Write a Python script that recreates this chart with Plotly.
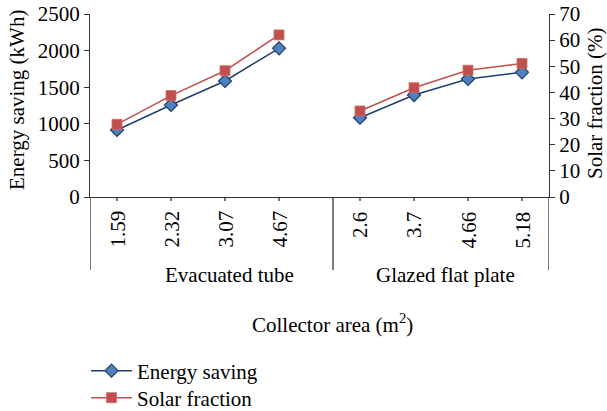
import plotly.graph_objects as go

# ---- data ----
groups = ["Evacuated tube", "Glazed flat plate"]
areas_et = ["1.59", "2.32", "3.07", "4.67"]
areas_gfp = ["2.6", "3.7", "4.66", "5.18"]
energy_et = [915, 1257, 1585, 2031]
energy_gfp = [1083, 1393, 1612, 1703]
solar_et = [27.8, 38.8, 48.3, 62.0]
solar_gfp = [32.9, 41.8, 48.5, 51.1]

FONT = "Liberation Serif"
FS = 21
FT = 21
BLUE_LINE = "#1F3F6E"
BLUE_FILL = "#4F81BD"
RED = "#C0504D"
AX = "#333333"

# category slot positions (layout)
pos_et = [i + 0.5 for i in range(len(areas_et))]
sep = len(areas_et) + 0.5
pos_gfp = [sep + i + 0.5 for i in range(len(areas_gfp))]
xend = pos_gfp[-1] + 0.5

xs = pos_et + [None] + pos_gfp
energy = energy_et + [None] + energy_gfp
solar = solar_et + [None] + solar_gfp

W, H = 607, 411
ml, mr, mt, mb = 90, 58, 14, 214
pw = W - ml - mr
ph = H - mt - mb


def py(px):
    return (H - mb - px) / ph


def pxp(px):
    return (px - ml) / pw


fig = go.Figure()
fig.add_trace(go.Scatter(
    x=xs, y=energy, name="Energy saving", mode="lines+markers",
    line=dict(color=BLUE_LINE, width=1.5),
    marker=dict(symbol="diamond", size=10, color=BLUE_FILL,
                line=dict(color=BLUE_LINE, width=1.2)),
    connectgaps=False, yaxis="y", legend="legend"))
fig.add_trace(go.Scatter(
    x=xs, y=solar, name="Solar fraction", mode="lines+markers",
    line=dict(color=RED, width=1.5),
    marker=dict(symbol="square", size=10, color=RED,
                line=dict(color="#D46A67", width=0.8)),
    connectgaps=False, yaxis="y2", legend="legend2"))

tf = dict(family=FONT, size=FS, color="black")
annotations = []
for p, t in zip(pos_et, areas_et):
    annotations.append(dict(x=p, y=py(250), xref="x", yref="paper", text=t,
                            textangle=-90, showarrow=False, xanchor="center",
                            yanchor="bottom", font=tf))
for p, t in zip(pos_gfp, areas_gfp):
    annotations.append(dict(x=p, y=py(210), xref="x", yref="paper", text=t,
                            textangle=-90, showarrow=False, xanchor="center",
                            yanchor="top", font=tf))
annotations.append(dict(x=pxp(229), y=py(275), xref="paper", yref="paper", text=groups[0],
                        showarrow=False, xanchor="center", yanchor="middle", font=tf))
annotations.append(dict(x=pxp(445), y=py(275), xref="paper", yref="paper", text=groups[1],
                        showarrow=False, xanchor="center", yanchor="middle", font=tf))
annotations.append(dict(x=pxp(332), y=py(323), xref="paper", yref="paper",
                        text="Collector area (m<sup>2</sup>)",
                        showarrow=False, xanchor="center", yanchor="middle", font=tf))
annotations.append(dict(x=pxp(17), y=py(100), xref="paper", yref="paper",
                        text="Energy saving (kWh)", textangle=-90,
                        showarrow=False, xanchor="center", yanchor="middle", font=tf))
annotations.append(dict(x=pxp(595), y=py(103), xref="paper", yref="paper",
                        text="Solar fraction (%)", textangle=-90,
                        showarrow=False, xanchor="center", yanchor="middle", font=tf))

shapes = []
for xv in [0, sep, xend]:
    shapes.append(dict(type="line", xref="x", yref="paper", x0=xv, x1=xv,
                       y0=0, y1=py(270), line=dict(color=AX, width=1.3)))
for p in pos_et + pos_gfp:
    shapes.append(dict(type="line", xref="x", yref="paper", x0=p, x1=p,
                       y0=0, y1=py(201), line=dict(color=AX, width=1.3)))

lf = dict(family=FONT, size=FS, color="black")
fig.update_layout(
    width=W, height=H,
    margin=dict(l=ml, r=mr, t=mt, b=mb, autoexpand=False),
    plot_bgcolor="white", paper_bgcolor="white",
    font=dict(family=FONT, size=FT, color="black"),
    showlegend=True,
    legend=dict(x=pxp(86), y=py(371), xanchor="left", yanchor="middle",
                font=lf, bgcolor="rgba(0,0,0,0)", itemwidth=41),
    legend2=dict(x=pxp(86), y=py(398), xanchor="left", yanchor="middle",
                 font=lf, bgcolor="rgba(0,0,0,0)", itemwidth=41),
    xaxis=dict(range=[0, xend], showticklabels=False, ticks="",
               showgrid=False, zeroline=False, showline=True,
               linecolor=AX, linewidth=1.3, automargin=False),
    yaxis=dict(range=[0, 2500], dtick=500, showgrid=False, zeroline=False,
               showline=True, linecolor=AX, linewidth=1.3, ticks="outside",
               ticklen=5, tickcolor=AX, automargin=False,
               tickfont=dict(family=FONT, size=FT)),
    yaxis2=dict(range=[0, 70], dtick=10, overlaying="y", side="right",
                showgrid=False, zeroline=False, showline=True, linecolor=AX,
                linewidth=1.3, ticks="outside", ticklen=5, tickcolor=AX,
                automargin=False, tickfont=dict(family=FONT, size=FT)),
    annotations=annotations,
    shapes=shapes,
)

fig.write_html("out.html", config={"displayModeBar": False},
               post_script="document.body.style.margin='0';document.body.style.overflow='hidden';")
